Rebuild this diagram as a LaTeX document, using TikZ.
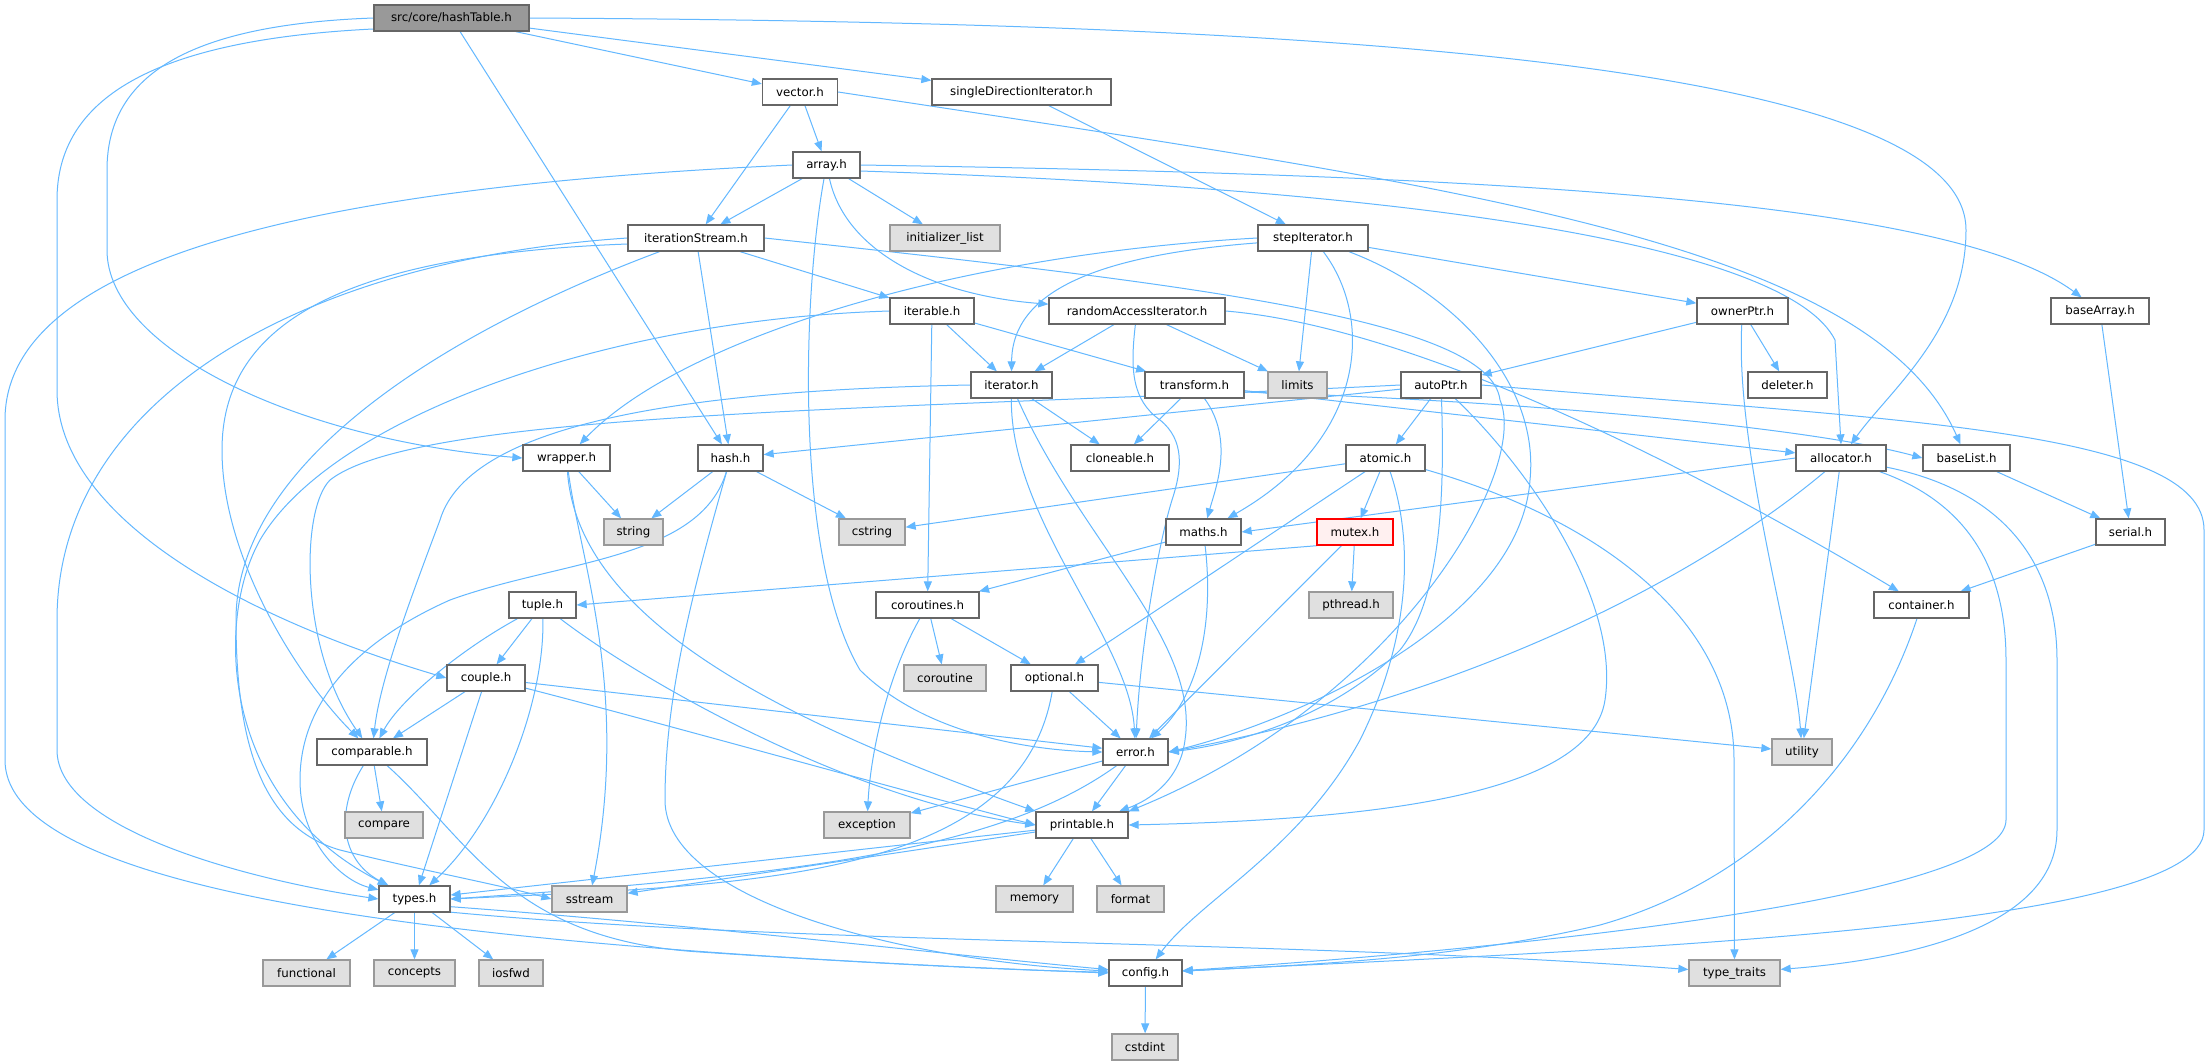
\documentclass[tikz,border=0pt]{standalone}
\usepackage{fontspec}
\newfontfamily\dvs{DejaVu Sans}
\usetikzlibrary{arrows.meta}
\definecolor{edgec}{HTML}{63B8FF}
\definecolor{bordc}{HTML}{666666}
\definecolor{sysb}{HTML}{999999}
\definecolor{sysf}{HTML}{E0E0E0}
\definecolor{rootf}{HTML}{999999}
\definecolor{hlb}{HTML}{FF0000}
\definecolor{hlf}{HTML}{FFF0F0}
\pgfdeclarelayer{bg}
\pgfsetlayers{bg,main}
\begin{document}
\begin{tikzpicture}[x=1pt,y=-1pt,
 nd/.style={draw=bordc, fill=white, line width=1.3pt, minimum height=26pt, inner xsep=3pt, inner ysep=0pt, font=\dvs\fontsize{11.8}{14}\selectfont, text=black},
 sys/.style={nd, draw=sysb, fill=sysf},
 root/.style={nd, fill=rootf},
 hl/.style={nd, draw=hlb, fill=hlf},
 dep/.style={draw=edgec, line width=1pt, -{Triangle[length=10pt,width=8pt]}}]
\begin{pgfonlayer}{bg}
\fill[white] (0,0) rectangle (2209,1063);
\end{pgfonlayer}
\useasboundingbox (0,0) rectangle (2209,1063);

\node[root, minimum width=155pt] (hashTable) at (451.5,18) {src/core/hashTable.h};
\node[nd, minimum width=75pt] (vector) at (800,92) {vector.h};
\node[nd, minimum width=179pt] (sdi) at (1021.5,92) {singleDirectionIterator.h};
\node[nd, minimum width=67pt] (array) at (826.5,165) {array.h};
\node[nd, minimum width=136pt] (itStream) at (696,238) {iterationStream.h};
\node[sys, minimum width=110pt] (initList) at (945,238) {initializer\_list};
\node[nd, minimum width=110pt] (stepIt) at (1313,238) {stepIterator.h};
\node[nd, minimum width=84pt] (iterable) at (932,311) {iterable.h};
\node[nd, minimum width=176pt] (rai) at (1137,311) {randomAccessIterator.h};
\node[nd, minimum width=91pt] (ownerPtr) at (1742.5,311) {ownerPtr.h};
\node[nd, minimum width=98pt] (baseArray) at (2100,311) {baseArray.h};
\node[nd, minimum width=81pt] (iterator) at (1011.5,385) {iterator.h};
\node[nd, minimum width=99pt] (transform) at (1194.5,385) {transform.h};
\node[sys, minimum width=59pt] (limits) at (1297.5,385) {limits};
\node[nd, minimum width=80pt] (autoPtr) at (1441,385) {autoPtr.h};
\node[nd, minimum width=79pt] (deleter) at (1787.5,385) {deleter.h};
\node[nd, minimum width=87pt] (wrapper) at (566.5,458) {wrapper.h};
\node[nd, minimum width=65pt] (hash) at (730.5,458) {hash.h};
\node[nd, minimum width=98pt] (cloneable) at (1120,458) {cloneable.h};
\node[nd, minimum width=79pt] (atomic) at (1385.5,458) {atomic.h};
\node[nd, minimum width=90pt] (allocator) at (1841,458) {allocator.h};
\node[nd, minimum width=87pt] (baseList) at (1966.5,458) {baseList.h};
\node[sys, minimum width=59pt] (string) at (633.5,532) {string};
\node[sys, minimum width=66pt] (cstring) at (872,532) {cstring};
\node[nd, minimum width=75pt] (maths) at (1203.5,532) {maths.h};
\node[hl, minimum width=76pt] (mutex) at (1355,532) {mutex.h};
\node[nd, minimum width=69pt] (serial) at (2130.5,532) {serial.h};
\node[nd, minimum width=67pt] (tuple) at (542.5,605) {tuple.h};
\node[nd, minimum width=103pt] (coroutines) at (927.5,605) {coroutines.h};
\node[sys, minimum width=84pt] (pthread) at (1351,605) {pthread.h};
\node[nd, minimum width=95pt] (container) at (1921.5,605) {container.h};
\node[nd, minimum width=78pt] (couple) at (486,678) {couple.h};
\node[sys, minimum width=82pt] (coroutine) at (945,678) {coroutine};
\node[nd, minimum width=87pt] (optional) at (1054.5,678) {optional.h};
\node[nd, minimum width=110pt] (comparable) at (372,752) {comparable.h};
\node[nd, minimum width=65pt] (error) at (1135.5,752) {error.h};
\node[sys, minimum width=60pt] (utility) at (1802,752) {utility};
\node[sys, minimum width=78pt] (compare) at (384,825) {compare};
\node[sys, minimum width=86pt] (exception) at (867,825) {exception};
\node[nd, minimum width=92pt] (printable) at (1082,825) {printable.h};
\node[nd, minimum width=71pt] (types) at (414.5,899) {types.h};
\node[sys, minimum width=75pt] (sstream) at (589.5,899) {sstream};
\node[sys, minimum width=77pt] (memory) at (1034.5,899) {memory};
\node[sys, minimum width=67pt] (format) at (1130.5,899) {format};
\node[sys, minimum width=87pt] (functional) at (306.5,973) {functional};
\node[sys, minimum width=81pt] (concepts) at (414.5,973) {concepts};
\node[sys, minimum width=64pt] (iosfwd) at (511,973) {iosfwd};
\node[nd, minimum width=73pt] (config) at (1145.5,973) {config.h};
\node[sys, minimum width=91pt] (typeTraits) at (1734.5,973) {type\_traits};
\node[sys, minimum width=66pt] (cstdint) at (1145,1047) {cstdint};

\begin{pgfonlayer}{bg}
% hashTable
\draw[dep] (hashTable) -- (vector);
\draw[dep] (hashTable) -- (sdi);
\draw[dep] (hashTable.east) .. controls (1300,22) and (1966,60) .. (1966,230) .. controls (1966,330) and (1890,390) .. (allocator);
\draw[dep] (hashTable) -- (hash);
\draw[dep] (hashTable.west) .. controls (180,25) and (107,80) .. (107,170) -- (107,250) .. controls (107,350) and (300,440) .. (wrapper.west);
\draw[dep] (hashTable.188) .. controls (150,40) and (57,100) .. (57,200) -- (57,390) .. controls (57,520) and (250,620) .. (couple.west);
% vector
\draw[dep] (vector) -- (itStream);
\draw[dep] (vector) -- (array);
\draw[dep] (vector.east) .. controls (1450,185) and (1870,240) .. (baseList);
% singleDirectionIterator
\draw[dep] (sdi) -- (stepIt);
% array
\draw[dep] (array) -- (itStream);
\draw[dep] (array) -- (initList);
\draw[dep] (array) .. controls (802,300) and (795,560) .. (860,670) .. controls (920,730) and (1020,750) .. (error.west);
\draw[dep] (array) .. controls (845,250) and (930,295) .. (rai);
\draw[dep] (array.west) .. controls (350,185) and (5,250) .. (5,420) -- (5,760) .. controls (5,900) and (500,950) .. (config.west);
\draw[dep] (array.-10) .. controls (1450,190) and (1790,250) .. (1835,340) -- (allocator.north);
\draw[dep] (array.east) .. controls (1500,175) and (1950,200) .. (baseArray);
% iterationStream
\draw[dep] (itStream) -- (iterable);
\draw[dep] (itStream) -- (hash);
\draw[dep] (itStream.west) .. controls (300,260) and (57,400) .. (57,620) -- (57,750) .. controls (57,830) and (250,880) .. (types.west);
\draw[dep] (itStream.185) .. controls (330,255) and (222,330) .. (222,450) .. controls (222,560) and (300,680) .. (comparable);
\draw[dep] (itStream) .. controls (450,330) and (236,460) .. (236,620) .. controls (236,760) and (270,830) .. (340,850) .. controls (420,870) and (500,885) .. (sstream.west);
\draw[dep] (itStream.east) .. controls (1200,285) and (1490,320) .. (1500,400) .. controls (1530,470) and (1400,700) .. (printable.north east);
% iterable
\draw[dep] (iterable) -- (transform);
\draw[dep] (iterable) -- (iterator);
\draw[dep] (iterable) -- (coroutines);
\draw[dep] (iterable.west) .. controls (600,320) and (330,420) .. (260,540) .. controls (215,620) and (220,800) .. (types);
% stepIterator
\draw[dep] (stepIt.west) .. controls (950,255) and (680,340) .. (wrapper);
\draw[dep] (stepIt.185) .. controls (1100,255) and (1012,290) .. (iterator);
\draw[dep] (stepIt) -- (limits);
\draw[dep] (stepIt) .. controls (1375,320) and (1365,440) .. (maths);
\draw[dep] (stepIt) -- (ownerPtr);
\draw[dep] (stepIt) .. controls (1450,290) and (1540,380) .. (1530,480) .. controls (1520,620) and (1300,720) .. (error.east);
% randomAccessIterator
\draw[dep] (rai) -- (iterator);
\draw[dep] (rai) .. controls (1130,370) and (1132,400) .. (1160,420) .. controls (1185,440) and (1182,470) .. (1172,500) .. controls (1158,545) and (1140,650) .. (error);
\draw[dep] (rai) -- (limits);
\draw[dep] (rai.east) .. controls (1450,330) and (1780,520) .. (container);
% ownerPtr
\draw[dep] (ownerPtr) -- (autoPtr);
\draw[dep] (ownerPtr) -- (deleter);
\draw[dep] (ownerPtr) .. controls (1735,450) and (1795,650) .. (utility);
% baseArray
\draw[dep] (baseArray) -- (serial);
% iterator
\draw[dep] (iterator) -- (cloneable);
\draw[dep] (iterator) .. controls (1010,520) and (1130,640) .. (error);
\draw[dep] (iterator) .. controls (1080,540) and (1200,640) .. (1185,740) .. controls (1180,780) and (1150,800) .. (printable);
\draw[dep] (iterator.west) .. controls (700,390) and (470,420) .. (440,520) .. controls (410,600) and (380,680) .. (comparable);
% transform
\draw[dep] (transform) -- (cloneable);
\draw[dep] (transform) .. controls (1235,440) and (1215,490) .. (maths);
\draw[dep] (transform) -- (allocator);
\draw[dep] (transform.-8) .. controls (1500,400) and (1800,425) .. (baseList.west);
% autoPtr
\draw[dep] (autoPtr) -- (hash);
\draw[dep] (autoPtr.west) .. controls (900,410) and (420,410) .. (330,480) .. controls (300,510) and (300,650) .. (comparable);
\draw[dep] (autoPtr) -- (atomic);
\draw[dep] (autoPtr.east) .. controls (1900,420) and (2204,430) .. (2204,530) -- (2204,830) .. controls (2204,930) and (1600,950) .. (config);
\draw[dep] (autoPtr) .. controls (1445,500) and (1440,600) .. (1400,650) .. controls (1330,720) and (1230,745) .. (error.east);
\draw[dep] (autoPtr) .. controls (1530,470) and (1620,600) .. (1605,700) .. controls (1590,800) and (1350,820) .. (printable.east);
% atomic
\draw[dep] (atomic) -- (cstring);
\draw[dep] (atomic) -- (optional);
\draw[dep] (atomic) -- (mutex);
\draw[dep] (atomic) .. controls (1420,560) and (1400,660) .. (1360,740) .. controls (1300,850) and (1200,900) .. (config);
\draw[dep] (atomic) .. controls (1600,520) and (1734,620) .. (1734,760) -- (typeTraits);
% mutex
\draw[dep] (mutex.200) -- (tuple.east);
\draw[dep] (mutex) -- (pthread);
\draw[dep] (mutex) -- (error);
% maths
\draw[dep] (maths) -- (coroutines);
\draw[dep] (maths) .. controls (1215,630) and (1195,700) .. (error);
% coroutines
\draw[dep] (coroutines) -- (coroutine);
\draw[dep] (coroutines) -- (optional);
\draw[dep] (coroutines) .. controls (885,680) and (870,760) .. (exception);
% optional
\draw[dep] (optional) -- (error);
\draw[dep] (optional) .. controls (1020,880) and (750,885) .. (types.east);
\draw[dep] (optional) -- (utility);
% hash
\draw[dep] (hash) -- (string);
\draw[dep] (hash) -- (cstring);
\draw[dep] (hash) .. controls (700,560) and (560,560) .. (450,600) .. controls (360,640) and (300,700) .. (300,780) .. controls (300,840) and (340,880) .. (types);
\draw[dep] (hash) .. controls (690,600) and (665,700) .. (665,800) .. controls (665,900) and (900,960) .. (config);
% wrapper
\draw[dep] (wrapper) -- (string);
\draw[dep] (wrapper) .. controls (580,560) and (630,690) .. (sstream);
\draw[dep] (wrapper) .. controls (578,620) and (780,720) .. (printable.north west);
% allocator
\draw[dep] (allocator.west) -- (maths.east);
\draw[dep] (allocator) .. controls (1720,560) and (1500,690) .. (error.east);
\draw[dep] (allocator) -- (utility);
\draw[dep] (allocator) .. controls (1960,500) and (2006,560) .. (2006,660) -- (2006,820) .. controls (2006,900) and (1500,950) .. (config);
\draw[dep] (allocator) .. controls (2000,490) and (2057,560) .. (2057,660) -- (2057,830) .. controls (2057,930) and (1900,960) .. (typeTraits);
% baseList, serial, container
\draw[dep] (baseList) -- (serial);
\draw[dep] (serial) -- (container);
\draw[dep] (container) .. controls (1870,760) and (1760,880) .. (1600,925) .. controls (1450,960) and (1300,965) .. (config);
% error
\draw[dep] (error) -- (exception);
\draw[dep] (error) -- (printable);
\draw[dep] (error) .. controls (1000,850) and (800,875) .. (types.east);
% printable
\draw[dep] (printable) -- (memory);
\draw[dep] (printable) -- (format);
\draw[dep] (printable) -- (types);
\draw[dep] (printable) -- (sstream);
% comparable
\draw[dep] (comparable) -- (compare);
\draw[dep] (comparable) .. controls (335,810) and (340,860) .. (types);
\draw[dep] (comparable) .. controls (470,840) and (510,940) .. (700,952) .. controls (850,962) and (1000,970) .. (config);
% types
\draw[dep] (types) -- (functional);
\draw[dep] (types) -- (concepts);
\draw[dep] (types) -- (iosfwd);
\draw[dep] (types.-12) .. controls (700,925) and (950,955) .. (config);
\draw[dep] (types.-20) .. controls (800,945) and (1300,940) .. (typeTraits);
% tuple
\draw[dep] (tuple) -- (couple);
\draw[dep] (tuple) .. controls (460,650) and (400,700) .. (comparable);
\draw[dep] (tuple) .. controls (545,700) and (500,820) .. (types);
\draw[dep] (tuple) .. controls (640,680) and (850,800) .. (printable.west);
% couple
\draw[dep] (couple) -- (comparable);
\draw[dep] (couple) -- (types);
\draw[dep] (couple) .. controls (650,720) and (900,790) .. (printable.west);
\draw[dep] (couple) -- (error);
% config
\draw[dep] (config) -- (cstdint);
\end{pgfonlayer}
\end{tikzpicture}
\end{document}
